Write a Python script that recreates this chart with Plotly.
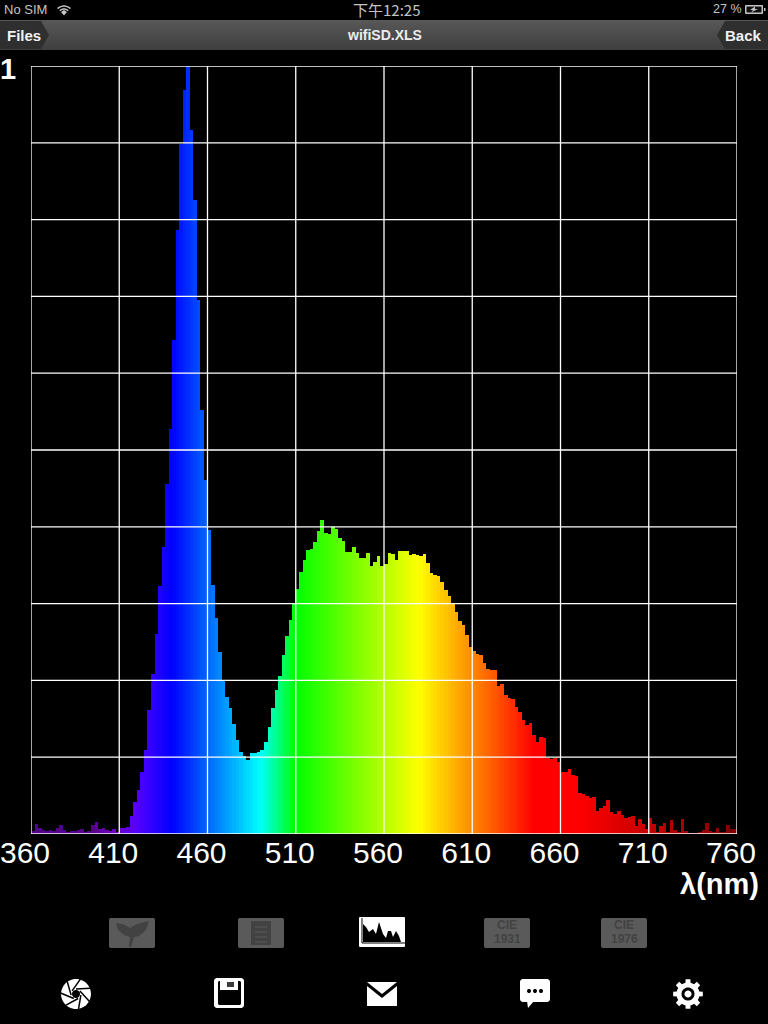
import math
import plotly.graph_objects as go

# ---------- data ----------
wavelengths = list(range(361, 760, 2))
intensity = [
    3, 10, 6, 4, 3, 4, 3, 6, 9, 4, 2, 3, 3, 4, 5, 2, 3, 9, 12, 5, 6, 4, 3, 5, 2, 6, 6, 7,
    18, 32, 44, 62, 84, 124, 160, 200, 248, 287, 350, 405, 494, 604, 690, 744, 768, 704,
    634, 534, 424, 354, 304, 249, 216, 182, 154, 137, 126, 110, 94, 82, 78, 74, 81, 81, 82,
    84, 92, 107, 126, 144, 158, 179, 198, 214, 231, 245, 262, 274, 284, 285, 292, 303, 314,
    301, 300, 307, 305, 296, 293, 282, 282, 287, 281, 276, 276, 281, 268, 272, 278, 268,
    270, 281, 280, 274, 283, 283, 283, 279, 280, 279, 278, 280, 271, 261, 259, 258, 252,
    244, 238, 231, 222, 213, 209, 199, 187, 183, 180, 179, 171, 165, 164, 164, 148, 150,
    139, 136, 135, 127, 122, 114, 109, 111, 99, 92, 97, 96, 76, 75, 76, 72, 62, 62, 65, 59,
    58, 41, 40, 38, 36, 37, 23, 26, 28, 34, 22, 20, 23, 19, 16, 17, 18, 8, 15, 10, 5, 16,
    10, 2, 8, 11, 2, 14, 4, 2, 15, 3, 1, 1, 1, 2, 4, 11, 3, 2, 6, 2, 2, 9, 5, 5,
]
x_ticks = [360, 410, 460, 510, 560, 610, 660, 710, 760]
y_max = 768
y_divisions = 10
x_title = "λ(nm)"
plot_number = "1"
file_name = "wifiSD.XLS"
status_left = "No SIM"
status_time = "下午12:25"
status_battery = "27 %"
nav_left = "Files"
nav_right = "Back"

W, H = 768, 1024
PL, PR, PT, PB = 31, 737, 66, 834
FONT = "Liberation Sans"


def spectral(w):
    if w < 440:
        r, g, b = min((440 - w) / 60, 0.6), 0, 1
    elif w < 490:
        r, g, b = 0, (w - 440) / 50, 1
    elif w < 510:
        r, g, b = 0, 1, (510 - w) / 20
    elif w < 580:
        r, g, b = (w - 510) / 70, 1, 0
    elif w < 645:
        r, g, b = 1, (645 - w) / 65, 0
    else:
        r, g, b = 1, 0, 0
    if w < 420:
        f = max(0.3 + 0.7 * max(w - 380, 0) / 40, 0.55)
    elif w > 670:
        f = 1 - 0.5 * (w - 670) / 90
    else:
        f = 1
    return f"rgb({int(255*r*f)},{int(255*g*f)},{int(255*b*f)})"


bar_colors = [spectral(w) for w in wavelengths]


def fx(x):
    return x / W


def fy(y):
    return 1 - y / H


def path(points, close=True):
    s = "M" + " L".join(f"{fx(x):.5f},{fy(y):.5f}" for x, y in points)
    return s + (" Z" if close else "")


shapes = []
annots = []


def poly(points, color, layer="above"):
    shapes.append(dict(type="path", xref="paper", yref="paper", path=path(points),
                       fillcolor=color, line=dict(width=0), layer=layer))


def pline(points, color, width):
    shapes.append(dict(type="path", xref="paper", yref="paper", path=path(points, close=False),
                       line=dict(color=color, width=width), layer="above"))


def rrect(x0, y0, x1, y1, r, color):
    pts = []
    for cx, cy, a0 in [(x1 - r, y0 + r, -90), (x1 - r, y1 - r, 0), (x0 + r, y1 - r, 90), (x0 + r, y0 + r, 180)]:
        for k in range(7):
            a = math.radians(a0 + 15 * k)
            pts.append((cx + r * math.cos(a), cy + r * math.sin(a)))
    poly(pts, color)


def circle(cx, cy, r, color):
    poly([(cx + r * math.cos(math.radians(t)), cy + r * math.sin(math.radians(t))) for t in range(0, 360, 12)], color)


def text(x, y, s, size, color="white", bold=False, anchor="center", font=FONT):
    annots.append(dict(xref="paper", yref="paper", x=fx(x), y=fy(y), text=f"<b>{s}</b>" if bold else s,
                       showarrow=False, xanchor=anchor, yanchor="middle",
                       font=dict(family=font, size=size, color=color)))


# ---------- grid lines on top of the spectrum ----------
for t in x_ticks:
    shapes.append(dict(type="line", xref="x", yref="y", x0=t, x1=t, y0=0, y1=y_max,
                       line=dict(color="white", width=1.3), layer="above"))
for i in range(y_divisions + 1):
    v = y_max * i / y_divisions
    shapes.append(dict(type="line", xref="x", yref="y", x0=x_ticks[0], x1=x_ticks[-1], y0=v, y1=v,
                       line=dict(color="white", width=1.3), layer="above"))

# ---------- status bar ----------
text(2, 9, status_left, 13, "#c4c4c4", anchor="left")
text(386, 9, status_time, 15, "#c4c4c4", font="Noto Sans CJK SC, " + FONT)
text(744, 9, status_battery, 12.5, "#c4c4c4", anchor="right")
for r, w in [(9, 1.4), (6, 1.4)]:
    pline([(64 + r * math.cos(math.radians(t)), 15 + r * math.sin(math.radians(t))) for t in range(-135, -40, 10)], "#c4c4c4", w)
poly([(61, 12), (64, 15.5), (67, 12), (64, 10)], "#c4c4c4")
rrect(745, 5, 763, 14, 1, "#c4c4c4")
rrect(746.5, 6.5, 761.5, 12.5, 0.5, "#111111")
poly([(755, 6.5), (750, 10), (753, 10), (751, 12.5), (758, 9), (755, 9)], "#c4c4c4")
poly([(764, 8), (765.5, 8), (765.5, 11), (764, 11)], "#c4c4c4")

# ---------- navigation bar ----------
for row in range(20, 50):
    g = int(88 - (row - 20) * 0.85)
    shapes.append(dict(type="rect", xref="paper", yref="paper", x0=0, x1=1, y0=fy(row + 1), y1=fy(row),
                       fillcolor=f"rgb({g},{g},{g})", line=dict(width=0), layer="above"))
poly([(0, 21), (41, 21), (49, 35), (41, 49), (0, 49)], "#2f2f2f")
poly([(768, 21), (725, 21), (717, 35), (725, 49), (768, 49)], "#2f2f2f")
text(24, 35, nav_left, 15, "#f2f2f2", bold=True)
text(743, 35, nav_right, 15, "#f2f2f2", bold=True)
text(384, 35, file_name, 14, "#ececec", bold=True)

# ---------- plot captions ----------
text(8, 69, plot_number, 29, "white", bold=True)
text(761, 884, x_title, 29, "white", bold=True, anchor="right")

# ---------- tab icons ----------
TAB = "#5a5a5a"
DARK = "#424242"
for x0 in [109, 238, 484, 601]:
    rrect(x0, 918, x0 + 46, 948, 2, TAB)
# leaf
poly([(116, 923), (123, 924), (130, 928), (137, 924), (149, 921), (146, 930), (139, 936), (134, 937),
      (131, 947), (129, 947), (130, 937), (124, 935), (118, 930)], DARK)
# document
poly([(251, 921), (271, 921), (271, 945), (251, 945)], DARK)
for y in [927, 932, 937, 942]:
    pline([(255, y), (267, y)], TAB, 1)
# CIE labels
text(507, 925, "CIE", 12, DARK, bold=True)
text(507, 939, "1931", 12, DARK, bold=True)
text(624, 925, "CIE", 12, DARK, bold=True)
text(624, 939, "1976", 12, DARK, bold=True)
# spectrum tab
rrect(359, 917, 405, 947, 1, "white")
poly([(363, 942), (363, 924), (366, 927), (369, 932), (373, 929), (376, 934), (379, 922), (383, 934),
      (386, 938), (388, 931), (391, 931), (393, 937), (396, 931), (399, 936), (401, 942)], "black")
pline([(362, 918), (362, 943), (405, 943)], "black", 1)

# ---------- toolbar icons ----------
circle(76, 994, 15, "white")
for k in range(7):
    a = math.radians(k * 360 / 7 - 90)
    b = a + math.radians(68)
    pline([(76 + 5 * math.cos(a), 994 + 5 * math.sin(a)),
           (76 + 15.5 * math.cos(b), 994 + 15.5 * math.sin(b))], "black", 1.5)
circle(76, 994, 4, "black")

rrect(214, 978, 244, 1008, 3, "white")
rrect(218, 981, 241, 1005, 1.5, "black")
poly([(220, 981), (238, 981), (238, 990), (220, 990)], "white")
poly([(227, 982), (234, 982), (234, 987), (227, 987)], "#3a3a3a")

poly([(367, 982), (397, 982), (382, 994)], "white")
poly([(367, 986), (382, 998), (397, 986), (397, 1006), (367, 1006)], "white")

rrect(520, 979, 550, 1002, 3, "white")
poly([(527, 1001), (534, 1001), (528, 1008)], "white")
for cx in [529, 535, 541]:
    circle(cx, 991, 2, "black")

gear = []
for k in range(8):
    a = k * 45
    for da, r in [(-22.5, 11.5), (-13, 11.5), (-9, 15), (9, 15), (13, 11.5)]:
        t = math.radians(a + da)
        gear.append((688 + r * math.cos(t), 994 + r * math.sin(t)))
poly(gear, "white")
circle(688, 994, 6.5, "black")
circle(688, 994, 3.5, "white")

# ---------- figure ----------
fig = go.Figure(go.Bar(x=wavelengths, y=intensity, width=2, marker=dict(color=bar_colors, line=dict(width=0)),
                       hoverinfo="skip"))
fig.update_layout(
    width=W, height=H, margin=dict(l=0, r=0, t=0, b=0, autoexpand=False), autosize=False,
    paper_bgcolor="black", plot_bgcolor="black", showlegend=False, bargap=0,
    shapes=shapes, annotations=annots,
    xaxis=dict(domain=[PL / W, PR / W], range=[x_ticks[0], x_ticks[-1]], tickmode="array", tickvals=x_ticks,
               ticktext=[str(t) for t in x_ticks], showgrid=False, zeroline=False, ticks="", showline=False,
               ticklabelshift=-6, ticklabelstandoff=-2, tickangle=0, ticklabeloverflow="allow", automargin=False,
               tickfont=dict(family=FONT, size=30, color="white")),
    yaxis=dict(domain=[1 - PB / H, 1 - PT / H], range=[0, y_max], showgrid=False, zeroline=False,
               showticklabels=False, ticks="", showline=False, automargin=False),
)
fig.write_html("out.html", config=dict(displayModeBar=False, responsive=False),
               post_script="document.body.style.margin='0';document.body.style.background='black';"
                           "document.documentElement.style.overflow='hidden';")
